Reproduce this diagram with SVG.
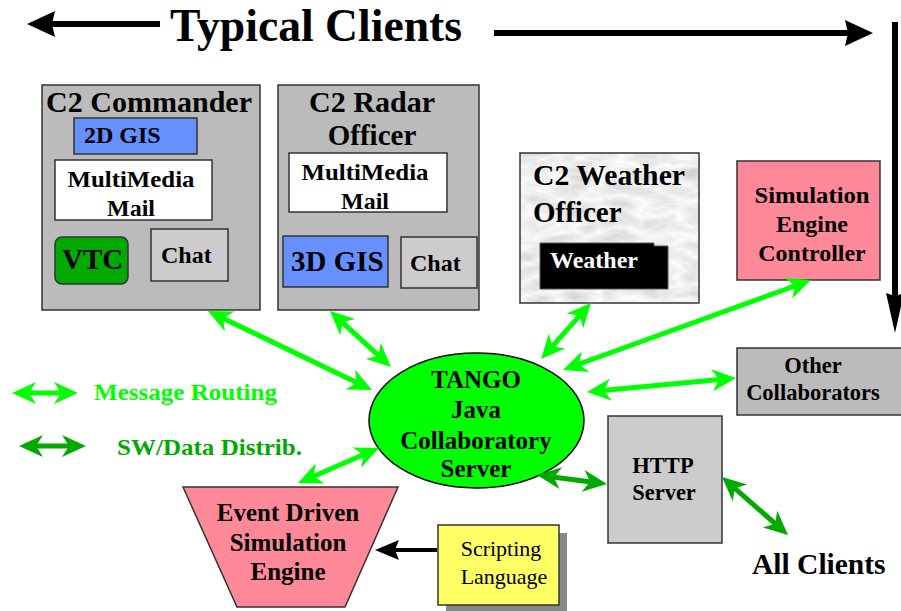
<svg xmlns="http://www.w3.org/2000/svg" width="901" height="611" viewBox="0 0 901 611">
<style>
text{font-family:"Liberation Serif","Times New Roman",serif;font-weight:bold;fill:#000}
.c{text-anchor:middle}
.box{stroke:#333;stroke-width:1.5}
.grey{fill:#bbbbbb}
.lgrey{fill:#cccccc}
.blue{fill:#6690ff}
.pink{fill:#ff8899}
.g{stroke:#00ff00;stroke-width:5;fill:none;marker-start:url(#ga);marker-end:url(#ga)}
.dg{stroke:#00aa00;stroke-width:5;fill:none;marker-start:url(#da);marker-end:url(#da)}
.bk{stroke:#000;stroke-width:6;fill:none;marker-end:url(#ba)}
</style>
<defs>
<marker id="ga" markerUnits="userSpaceOnUse" markerWidth="24" markerHeight="24" viewBox="0 -12 24 24" refX="8" refY="0" orient="auto-start-reverse" overflow="visible"><path d="M0,-11 L24,0 L0,11 L7,0 Z" fill="#00ff00"/></marker>
<marker id="da" markerUnits="userSpaceOnUse" markerWidth="24" markerHeight="24" viewBox="0 -12 24 24" refX="8" refY="0" orient="auto-start-reverse" overflow="visible"><path d="M0,-11 L24,0 L0,11 L7,0 Z" fill="#00aa00"/></marker>
<marker id="ba" markerUnits="userSpaceOnUse" markerWidth="30" markerHeight="30" viewBox="0 -15 30 30" refX="4" refY="0" orient="auto" overflow="visible"><path d="M0,-13 L28,0 L0,13 L3,0 Z" fill="#000"/></marker>
<marker id="bv" markerUnits="userSpaceOnUse" markerWidth="40" markerHeight="20" viewBox="0 -10 40 20" refX="6" refY="0" orient="auto" overflow="visible"><path d="M0,-9 L40,0 L0,9 L3,0 Z" fill="#000"/></marker>
<marker id="bs" markerUnits="userSpaceOnUse" markerWidth="24" markerHeight="24" viewBox="0 -12 24 24" refX="6" refY="0" orient="auto" overflow="visible"><path d="M0,-10 L24,0 L0,10 L4,0 Z" fill="#000"/></marker>
<filter id="marble" x="0" y="0" width="1" height="1">
<feTurbulence type="turbulence" baseFrequency="0.025 0.06" numOctaves="4" seed="7" result="t"/>
<feColorMatrix in="t" type="matrix" values="-0.45 0 0 0 1  -0.45 0 0 0 1  -0.45 0 0 0 1  0 0 0 0 1" result="m"/>
<feComposite in="m" in2="SourceGraphic" operator="in"/>
</filter>
</defs>

<g id="title">
<text x="170" y="41" font-size="46" textLength="292" lengthAdjust="spacingAndGlyphs">Typical Clients</text>
</g>

<g id="c2-commander">
<rect class="box grey" x="42" y="85" width="218" height="225"/>
<text x="46" y="112" font-size="29" textLength="206" lengthAdjust="spacingAndGlyphs">C2 Commander</text>
<rect class="box blue" x="74" y="118" width="123" height="36"/>
<text x="84" y="143" font-size="24">2D GIS</text>
<rect class="box" fill="#fff" x="55" y="160" width="157" height="60"/>
<text class="c" x="131" y="187" font-size="24" textLength="127" lengthAdjust="spacingAndGlyphs">MultiMedia</text>
<text class="c" x="131" y="216" font-size="24">Mail</text>
<rect class="box" fill="#00aa00" x="55" y="237" width="73" height="47" rx="7"/>
<text x="62" y="269" font-size="29">VTC</text>
<rect class="box lgrey" x="151" y="229" width="77" height="52"/>
<text x="161" y="263" font-size="24">Chat</text>
</g>

<g id="c2-radar">
<rect class="box grey" x="278" y="85" width="201" height="225"/>
<text class="c" x="372" y="112" font-size="29" textLength="126" lengthAdjust="spacingAndGlyphs">C2 Radar</text>
<text class="c" x="372" y="145" font-size="29">Officer</text>
<rect class="box" fill="#fff" x="289" y="153" width="158" height="59"/>
<text class="c" x="365" y="180" font-size="24" textLength="127" lengthAdjust="spacingAndGlyphs">MultiMedia</text>
<text class="c" x="365" y="209" font-size="24">Mail</text>
<rect class="box blue" x="283" y="236" width="105" height="51"/>
<text x="291" y="271" font-size="29">3D GIS</text>
<rect class="box lgrey" x="401" y="237" width="76" height="51"/>
<text x="410" y="271" font-size="24">Chat</text>
</g>

<g id="c2-weather">
<rect x="520" y="153" width="179" height="150" fill="#fff" filter="url(#marble)"/>
<rect class="box" fill="none" x="520" y="153" width="179" height="150"/>
<text x="533" y="185" font-size="29" textLength="152" lengthAdjust="spacingAndGlyphs">C2 Weather</text>
<text x="533" y="222" font-size="29">Officer</text>
<polygon points="540,243 654,243 654,246 668,246 668,289 540,289" fill="#000" stroke="#555" stroke-width="1"/>
<text x="550" y="268" font-size="24" style="fill:#fff">Weather</text>
</g>

<g id="sim-controller">
<rect class="box pink" x="737" y="161" width="143" height="119"/>
<text class="c" x="812" y="203" font-size="24" textLength="115" lengthAdjust="spacingAndGlyphs">Simulation</text>
<text class="c" x="812" y="232" font-size="24">Engine</text>
<text class="c" x="812" y="261" font-size="24">Controller</text>
</g>

<g id="other-collaborators">
<rect class="box grey" x="737" y="348" width="170" height="67"/>
<text class="c" x="813" y="373" font-size="22.5">Other</text>
<text class="c" x="813" y="400" font-size="22.5">Collaborators</text>
</g>

<g id="tango">
<ellipse cx="476.5" cy="420.5" rx="107.5" ry="67.5" fill="#00ff00" stroke="#000" stroke-width="1.5"/>
<text class="c" x="476" y="388" font-size="25">TANGO</text>
<text class="c" x="476" y="418" font-size="25">Java</text>
<text class="c" x="476" y="449" font-size="25">Collaboratory</text>
<text class="c" x="476" y="477" font-size="25">Server</text>
</g>

<g id="http-server">
<rect class="box lgrey" x="608" y="416" width="114" height="127"/>
<text class="c" x="663" y="473" font-size="22.5">HTTP</text>
<text class="c" x="664" y="500" font-size="22.5">Server</text>
</g>

<g id="all-clients">
<text x="752" y="574" font-size="29.5">All Clients</text>
</g>

<g id="event-engine">
<polygon class="box pink" points="183,487 398,487 345,607 237,607"/>
<text class="c" x="288" y="521" font-size="25">Event Driven</text>
<text class="c" x="288" y="551" font-size="25">Simulation</text>
<text class="c" x="288" y="580" font-size="25">Engine</text>
</g>

<g id="scripting">
<rect x="446" y="533" width="121" height="80" fill="#888"/>
<rect class="box" fill="#ffff66" x="438" y="525" width="121" height="80"/>
<text class="c" x="501" y="556" font-size="22" style="font-weight:normal">Scripting</text>
<text class="c" x="504" y="584" font-size="22" style="font-weight:normal">Language</text>
</g>

<g id="legend">
<line class="g" x1="28" y1="393" x2="62" y2="393"/>
<text x="94" y="400" font-size="24" style="fill:#00ff00" textLength="183" lengthAdjust="spacingAndGlyphs">Message Routing</text>
<line class="dg" x1="35" y1="446" x2="70" y2="446"/>
<text x="117" y="455" font-size="24" style="fill:#00aa00" textLength="185" lengthAdjust="spacingAndGlyphs">SW/Data Distrib.</text>
</g>

<g id="connectors">
<line class="bk" x1="160" y1="24" x2="51" y2="24"/>
<line class="bk" x1="494" y1="33" x2="849" y2="33"/>
<line stroke="#000" stroke-width="6" x1="895" y1="22" x2="895" y2="299" marker-end="url(#bv)"/>
<line stroke="#000" stroke-width="4" x1="437" y1="550" x2="393" y2="550" marker-end="url(#bs)"/>
<line class="g" x1="222.4" y1="317.9" x2="357.6" y2="383.1"/>
<line class="g" x1="341.8" y1="321.8" x2="379.2" y2="356.2"/>
<line class="g" x1="580.3" y1="314.9" x2="551.7" y2="347.1"/>
<line class="g" x1="796" y1="285.5" x2="578" y2="364.5"/>
<line class="g" x1="602.9" y1="390.5" x2="720.1" y2="379.5"/>
<line class="g" x1="312.7" y1="476.7" x2="364.3" y2="454.3"/>
<line class="dg" x1="552.9" y1="477" x2="591.1" y2="482"/>
<line class="dg" x1="734" y1="487.6" x2="776" y2="524.4"/>
</g>
</svg>
